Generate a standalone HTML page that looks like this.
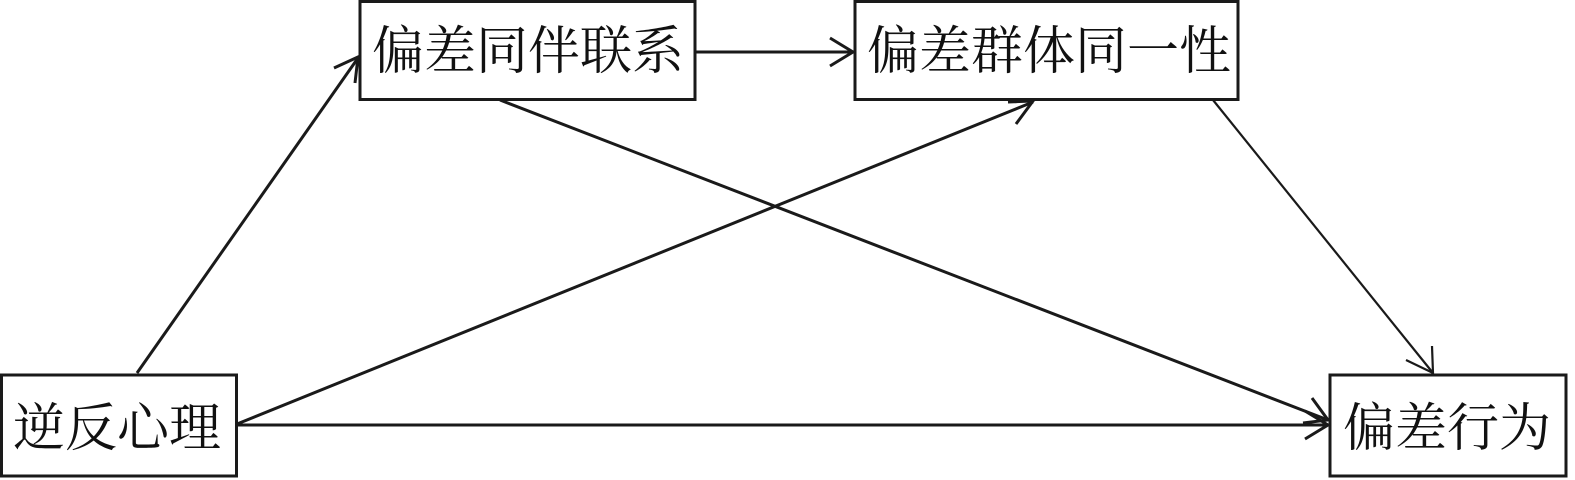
<!DOCTYPE html>
<html><head><meta charset="utf-8"><style>
html,body{margin:0;padding:0;background:#fff;width:1575px;height:480px;overflow:hidden}
svg{display:block}
text{font-family:"Liberation Serif","Noto Serif CJK SC","Noto Sans CJK SC",serif;font-size:52px;fill:#111}
</style></head><body>
<svg width="1575" height="480" viewBox="0 0 1575 480">
<g stroke="#1a1a1a" fill="none" stroke-width="3">
<rect x="360" y="1.5" width="335" height="98"/>
<rect x="855" y="1.5" width="383" height="98"/>
<rect x="1.5" y="375" width="235" height="101"/>
<rect x="1330" y="375" width="236" height="101"/>
<line x1="137" y1="373" x2="358" y2="58"/>
<polyline points="334,68 358,57 355,83"/>
<line x1="237" y1="425" x2="1328" y2="425"/>
<polyline points="1305,411 1328,425 1305,439"/>
<line x1="237" y1="424" x2="1033" y2="102"/>
<polyline points="1008,102 1033,101 1016,124"/>
<line x1="500" y1="100" x2="1328" y2="420"/>
<polyline points="1312,398 1328,420 1303,423"/>
<line x1="695" y1="52" x2="853" y2="52"/>
<polyline points="830,38 853,52 830,66"/>
<line x1="1213" y1="100" x2="1433" y2="373" stroke-width="2.2"/>
<polyline points="1406,360 1433,373 1432,346" stroke-width="2.2"/>
</g>
<text x="372" y="69">偏差同伴联系</text>
<text x="867" y="69">偏差群体同一性</text>
<text x="13" y="446">逆反心理</text>
<text x="1343" y="446">偏差行为</text>
</svg>
</body></html>
